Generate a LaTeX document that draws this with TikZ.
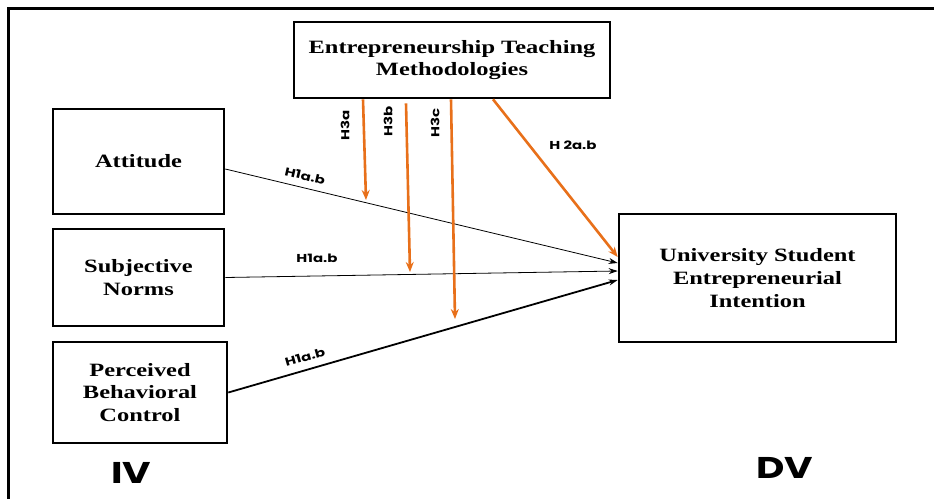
\documentclass[tikz,border=0pt]{standalone}
\usepackage{fontspec}
\setmainfont{Liberation Serif}[FakeStretch=1.3]
\newfontfamily\lblfont{Poppins}[FakeStretch=1.3]
\usetikzlibrary{arrows.meta}
\definecolor{hyporange}{RGB}{232,112,26}
\tikzset{
  x={(1pt,0)}, y={(0,-1pt)},
  varbox/.style={draw, line width=2.6pt, align=center, inner sep=0pt,
    font=\fontsize{18.8}{22.7}\selectfont\bfseries},
  hyp/.style={font=\lblfont\fontsize{11.5}{12}\selectfont\bfseries, inner sep=0pt},
  group/.style={font=\lblfont\fontsize{30}{32}\selectfont\bfseries, inner sep=0pt},
  thinarrow/.style={-{Stealth[length=9pt,width=6pt]}, line width=0.8pt},
  thickarrow/.style={-{Stealth[length=9pt,width=6pt]}, line width=1.8pt},
  modarrow/.style={-{Stealth[length=10pt,width=8pt]}, line width=2.6pt, hyporange},
}
\begin{document}
\begin{tikzpicture}
\useasboundingbox (0,0) rectangle (934,498);
% frame along the top and left edges
\draw[line width=3pt] (8,510) -- (8,8) -- (950,8);

% variables
\node[varbox, minimum width=316pt, minimum height=76pt] (etm) at (452,60)
  {Entrepreneurship Teaching\\Methodologies};
\node[varbox, minimum width=171pt, minimum height=105pt] (att) at (138.5,161.5) {Attitude};
\node[varbox, minimum width=171pt, minimum height=97pt] (sn) at (138.5,277.5) {Subjective\\Norms};
\node[varbox, minimum width=174pt, minimum height=101pt] (pbc) at (140,392.5)
  {Perceived\\Behavioral\\Control};
\node[varbox, minimum width=277pt, minimum height=128pt] (usei) at (757.5,278)
  {University Student\\Entrepreneurial\\Intention};

% group labels
\node[group] (iv) at (131,473) {IV};
\node[group] (dv) at (785,468) {DV};

% direct effects
\draw[thinarrow] ([yshift=-7.5pt]att.east) -- ([yshift=15pt]usei.west);
\draw[thinarrow] (sn.east) -- ([yshift=7pt]usei.west);
\draw[thickarrow] (pbc.east) -- ([yshift=-2pt]usei.west);

% moderating effects
\coordinate (m3a) at (366,200);
\coordinate (m3b) at (410,272);
\coordinate (m3c) at (455,319);
\draw[modarrow] ([xshift=-89pt]etm.south) -- (m3a);
\draw[modarrow] ([xshift=-46pt,yshift=-4pt]etm.south) -- (m3b);
\draw[modarrow] ([xshift=-1pt]etm.south) -- (m3c);
\draw[modarrow] ([xshift=41pt]etm.south) -- ([yshift=21pt]usei.west);

% hypothesis labels
\node[hyp, rotate=90] (h3a) at (345,125) {H3a};
\node[hyp, rotate=90] (h3b) at (388,121) {H3b};
\node[hyp, rotate=90] (h3c) at (435,123) {H3c};
\node[hyp] (h2) at (573,145) {H 2a.b};
\node[hyp, rotate=-13] (h1a) at (305,176) {H1a.b};
\node[hyp] (h1b) at (317,258) {H1a.b};
\node[hyp, rotate=16] (h1c) at (305,357) {H1a.b};
\end{tikzpicture}
\end{document}
